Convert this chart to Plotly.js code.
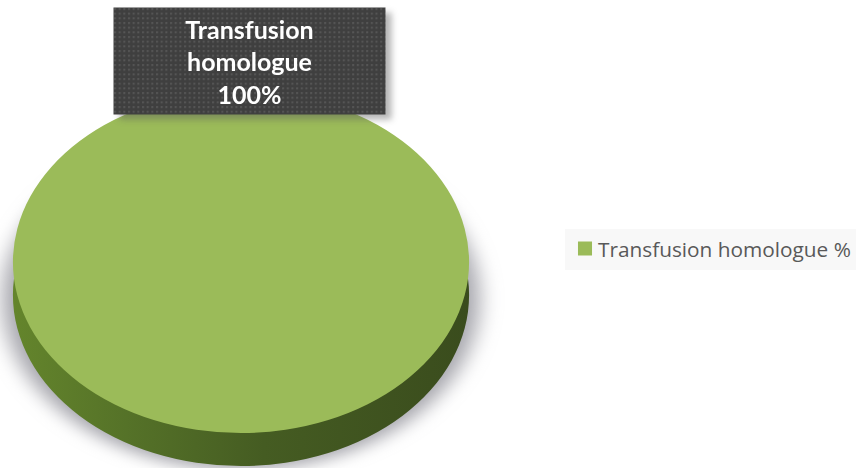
<!DOCTYPE html>
<html><head><meta charset="utf-8">
<script src="https://cdn.plot.ly/plotly-3.0.1.min.js"></script>
<style>html,body{margin:0;padding:0;background:#fff;overflow:hidden}#c{width:856px;height:468px}</style>
</head><body><div id="c"></div>
<script>
const categories = ['Transfusion homologue %'];
const values = [100];
const dataLabel = ['Transfusion', 'homologue'];
const colors = {top:'#9bbb59', side:'#4c6524', shadow:'#a5a5ac', legend:'#9bbb59'};

const W=856,H=468,D=456,left=13;
const dom={x:[left/W,(left+D)/W],y:[(H-D)/2/H,(H+D)/2/H]};
function pie(color,show){return {type:'pie',labels:categories,values:values,domain:dom,sort:false,
  textinfo:'none',hoverinfo:'skip',showlegend:show,marker:{colors:[color],line:{width:0}}};}
const data=[pie(colors.shadow,false),pie(colors.side,false),pie(colors.top,true)];
const layout={width:W,height:H,margin:{l:0,r:0,t:0,b:0,autoexpand:false},paper_bgcolor:'#fff',
  font:{family:'Lato, sans-serif'},
  legend:{x:565/W,xanchor:'left',y:1-249/H,yanchor:'middle',bgcolor:'#f8f8f8',
    font:{family:'"Open Sans", sans-serif',size:20.8,color:'#595959'},itemclick:false,itemdoubleclick:false},
  annotations:[{xref:'paper',yref:'paper',x:249.5/W,y:1-61/H,xanchor:'center',yanchor:'middle',
    showarrow:false,width:271,height:106,bgcolor:'#404040',borderpad:0,align:'center',valign:'middle',
    text:dataLabel.join('<br>')+'<br>'+values[0]+'%',
    font:{family:'Lato, sans-serif',size:25,color:'#fff',weight:700}}]};
Plotly.newPlot('c',data,layout,{displayModeBar:false}).then(()=>{
  const NS='http://www.w3.org/2000/svg';
  const svg=document.querySelector('.main-svg');
  const defs=svg.querySelector('defs')||svg.insertBefore(document.createElementNS(NS,'defs'),svg.firstChild);
  defs.insertAdjacentHTML('beforeend',`
   <linearGradient id="sideG" gradientUnits="objectBoundingBox" x1="0" x2="1" y1="0" y2="0">
     <stop offset="0" stop-color="#64852c"/><stop offset=".25" stop-color="#557228"/>
     <stop offset=".55" stop-color="#455c22"/><stop offset="1" stop-color="#3a4c1d"/></linearGradient>
   <filter id="blurS" x="-15%" y="-15%" width="130%" height="130%"><feGaussianBlur stdDeviation="10"/></filter>
   <pattern id="dots" width="4.67" height="4.67" patternUnits="userSpaceOnUse">
     <rect width="5" height="5" fill="#3f3f3f"/><rect x="1" y="1" width="2" height="2" fill="#565656"/></pattern>`);
  const cx=left+D/2, cy=H/2, rx=D/2;
  const sy=171/rx;
  const tr=document.querySelectorAll('.pielayer .trace');
  const place=(el,sx,ycen)=>el.setAttribute('transform',
    `matrix(${sx} 0 0 ${sy} ${cx-sx*cx} ${ycen-sy*cy})`);
  place(tr[0],1.045,299); place(tr[1],1,295); place(tr[2],1,262);
  tr[0].querySelector('path').setAttribute('filter','url(#blurS)');
  tr[1].querySelector('path').style.fill='url(#sideG)';
  const ann=document.querySelector('.annotation');
  ann.querySelector('rect.bg').style.fill='url(#dots)';
  ann.style.filter='drop-shadow(6px 5px 3px rgba(90,90,90,.45))';
  const sw=document.querySelector('.legendpie');
  if(sw){const t=sw.getAttribute('transform')||'';sw.setAttribute('transform',t+' scale(1.17)');}
  const lt=document.querySelector('.legendtext');
  if(lt){lt.setAttribute('x',33);}
});
</script></body></html>
